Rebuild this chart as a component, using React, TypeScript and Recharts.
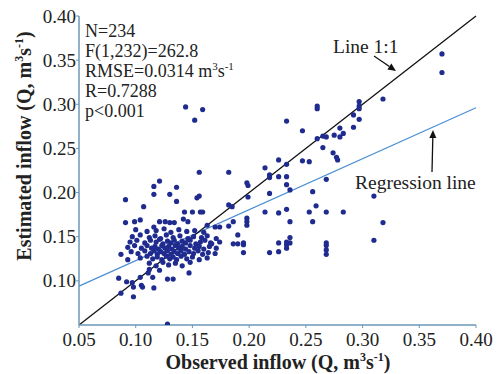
import React from 'react';
import { ScatterChart, Scatter, XAxis, YAxis, ReferenceLine } from 'recharts';

const xTicks = [0.05, 0.1, 0.15, 0.2, 0.25, 0.3, 0.35, 0.4];
const yTicks = [0.1, 0.15, 0.2, 0.25, 0.3, 0.35, 0.4];

// points to the right of the main cloud
const obsRight = [0.370,0.370,0.318,0.297,0.297,0.297,0.260,0.260,0.292,0.297,
  0.292,0.233,0.247,0.280,0.283,0.275,0.280,0.265,0.268,0.260,
  0.265,0.274,0.277,0.278,0.226,0.247,0.253,0.214,0.233,0.218,
  0.218,0.226,0.233,0.268,0.198,0.199,0.182,0.233,0.199,0.310,
  0.256,0.236,0.218,0.182,0.185,0.214,0.226,0.233,0.253,0.259,
  0.268,0.283,0.198,0.198,0.198,0.236,0.256,0.318,0.186,0.182,
  0.310,0.236,0.233,0.233,0.236,0.233,0.226,0.226,0.218,0.268,
  0.268,0.268,0.268,0.195,0.195,0.195,0.190,0.186,0.190];
const estRight = [0.357,0.336,0.306,0.303,0.298,0.295,0.298,0.295,0.288,0.283,
  0.274,0.281,0.270,0.273,0.267,0.265,0.263,0.264,0.263,0.261,
  0.251,0.245,0.240,0.237,0.237,0.236,0.235,0.228,0.232,0.220,
  0.217,0.218,0.218,0.215,0.211,0.208,0.223,0.209,0.195,0.196,
  0.201,0.203,0.199,0.186,0.184,0.178,0.177,0.181,0.178,0.185,
  0.178,0.178,0.171,0.167,0.163,0.167,0.167,0.166,0.167,0.162,
  0.146,0.149,0.144,0.141,0.143,0.137,0.143,0.133,0.132,0.143,
  0.140,0.135,0.130,0.143,0.141,0.132,0.152,0.142,0.142];

// points above the main cloud
const obsUpper = [0.144,0.152,0.159,0.156,0.116,0.121,0.136,
  0.091,0.116,0.130,0.136,0.156,0.154,0.107,0.143,0.150,0.157,0.159,0.091,0.099,
  0.104,0.121,0.126,0.130,0.134,0.142,0.146,0.116,0.163,0.170,0.174];
const estUpper = [0.297,0.282,0.294,0.223,0.207,0.213,0.206,
  0.192,0.198,0.198,0.190,0.196,0.194,0.184,0.178,0.178,0.178,0.178,0.166,0.167,
  0.169,0.167,0.167,0.166,0.166,0.170,0.167,0.161,0.163,0.161,0.161];

// points below the main cloud
const obsLower = [0.085,0.087,0.092,0.097,0.098,0.098,0.104,0.106,0.111,0.112,
  0.116,0.115,0.121,0.128,0.133,0.147,0.128,0.093,0.087,0.105,0.166];
const estLower = [0.103,0.086,0.099,0.098,0.093,0.082,0.104,0.093,0.109,0.113,
  0.092,0.104,0.112,0.102,0.102,0.109,0.051,0.124,0.130,0.095,0.143];

// dense central cloud
const obsCloud = [
  0.100,0.110,0.118,0.125,0.131,0.138,0.145,0.152,0.160,
  0.097,0.104,0.112,0.117,0.122,0.127,0.133,0.139,0.146,0.151,0.158,0.163,0.171,
  0.095,0.101,0.108,0.113,0.118,0.121,0.124,0.128,0.131,0.134,0.137,0.141,0.144,0.148,0.153,0.157,0.161,0.167,0.174,
  0.093,0.099,0.105,0.110,0.114,0.117,0.120,0.123,0.126,0.129,0.132,0.135,0.138,0.141,0.144,0.148,0.152,0.156,0.160,0.165,0.171,
  0.096,0.102,0.108,0.113,0.116,0.119,0.122,0.125,0.128,0.131,0.134,0.137,0.140,0.143,0.147,0.151,0.155,0.159,0.164,0.170,
  0.104,0.110,0.115,0.119,0.123,0.127,0.130,0.133,0.136,0.140,0.145,0.150,0.156,0.163,
  0.112,0.118,0.124,0.129,0.135,0.141,0.148];
const estCloud = [
  0.158,0.156,0.157,0.159,0.155,0.158,0.156,0.157,0.155,
  0.150,0.152,0.149,0.151,0.148,0.152,0.149,0.151,0.148,0.150,0.149,0.151,0.148,
  0.144,0.146,0.143,0.146,0.144,0.147,0.142,0.145,0.143,0.146,0.142,0.145,0.143,0.146,0.142,0.144,0.146,0.142,0.144,
  0.138,0.140,0.137,0.140,0.137,0.139,0.136,0.140,0.137,0.139,0.136,0.140,0.137,0.139,0.136,0.140,0.137,0.139,0.136,0.139,0.137,
  0.133,0.131,0.134,0.131,0.134,0.130,0.133,0.131,0.134,0.130,0.133,0.131,0.134,0.130,0.133,0.131,0.134,0.130,0.132,0.131,
  0.126,0.128,0.125,0.127,0.124,0.128,0.125,0.127,0.124,0.128,0.125,0.127,0.124,0.126,
  0.120,0.117,0.121,0.118,0.120,0.117,0.121];

const observed = [...obsRight, ...obsUpper, ...obsLower, ...obsCloud];
const estimated = [...estRight, ...estUpper, ...estLower, ...estCloud];
const points = observed.map((x, i) => ({ x, y: estimated[i] }));

const oneToOne = [{ x: 0.05, y: 0.05 }, { x: 0.4, y: 0.4 }];
const regression = [{ x: 0.05, y: 0.094 }, { x: 0.4, y: 0.296 }];

const statLines = ['N=234', 'F(1,232)=262.8', 'RMSE=0.0314 m', 'R=0.7288', 'p<0.001'];

const FONT = 'Liberation Serif, Times New Roman, serif';
const FRAME = '#6a97b8';
const DOT = '#1f2b8e';
const TXT = '#222';

const Dot = (p: any) => <circle cx={p.cx} cy={p.cy} r={2.6} fill={DOT} />;

const XTick = (p: any) => (
  <text x={p.x} y={p.y + 13} textAnchor="middle" fill={TXT} style={{ fontFamily: FONT, fontSize: 19 }}>
    {Number(p.payload.value).toFixed(2)}
  </text>
);
const YTick = (p: any) => (
  <text x={p.x} y={p.y + 6.5} textAnchor="end" fill={TXT} style={{ fontFamily: FONT, fontSize: 19 }}>
    {Number(p.payload.value).toFixed(2)}
  </text>
);

function Arrow({ x1, y1, x2, y2 }: { x1: number; y1: number; x2: number; y2: number }) {
  const a = Math.atan2(y2 - y1, x2 - x1);
  const L = 8, W = 3.5;
  const bx = x2 - L * Math.cos(a), by = y2 - L * Math.sin(a);
  const px = -Math.sin(a) * W, py = Math.cos(a) * W;
  return (
    <g>
      <line x1={x1} y1={y1} x2={bx} y2={by} stroke="#111" strokeWidth={1.3} />
      <polygon points={`${x2},${y2} ${bx + px},${by + py} ${bx - px},${by - py}`} fill="#111" />
    </g>
  );
}

const Unit = ({ size }: { size: number }) => (
  <>
    <tspan>m</tspan>
    <tspan dy={-size * 0.4} style={{ fontSize: size * 0.6 }}>3</tspan>
    <tspan dy={size * 0.4}>s</tspan>
    <tspan dy={-size * 0.4} style={{ fontSize: size * 0.6 }}>-1</tspan>
    <tspan dy={size * 0.4}>)</tspan>
  </>
);

export default function App() {
  return (
    <div style={{ position: 'absolute', left: 0, top: 0, width: 498, height: 374, background: '#fff' }}>
      <ScatterChart width={498} height={374} margin={{ top: 16, right: 22, bottom: 0, left: 0 }}>
        <XAxis
          type="number"
          dataKey="x"
          domain={[0.05, 0.4]}
          ticks={xTicks}
          height={49}
          tickSize={3}
          tickMargin={5}
          axisLine={{ stroke: FRAME, strokeWidth: 1.5 }}
          tickLine={{ stroke: FRAME }}
          tick={<XTick />}
          allowDataOverflow
        />
        <YAxis
          type="number"
          dataKey="y"
          domain={[0.05, 0.4]}
          ticks={yTicks}
          width={79}
          tickSize={3}
          tickMargin={0}
          axisLine={{ stroke: FRAME, strokeWidth: 1.5 }}
          tickLine={{ stroke: FRAME }}
          tick={<YTick />}
          allowDataOverflow
        />
        <XAxis xAxisId="top" orientation="top" type="number" domain={[0.05, 0.4]} height={0} tick={false} tickLine={false} axisLine={{ stroke: FRAME, strokeWidth: 1.5 }} />
        <YAxis yAxisId="right" orientation="right" type="number" domain={[0.05, 0.4]} width={0} tick={false} tickLine={false} axisLine={{ stroke: FRAME, strokeWidth: 1.5 }} />
        <ReferenceLine segment={regression} stroke="#4a8fd4" strokeWidth={1.2} ifOverflow="visible" />
        <ReferenceLine segment={oneToOne} stroke="#111" strokeWidth={1.3} ifOverflow="visible" />
        <Scatter data={points} shape={Dot} isAnimationActive={false} />
      </ScatterChart>
      <svg width={498} height={374} style={{ position: 'absolute', left: 0, top: 0, pointerEvents: 'none' }}>
        {statLines.map((t, i) => (
          <text key={t} x={85} y={37 + i * 20} fill={TXT} style={{ fontFamily: FONT, fontSize: 18 }}>
            {i === 2 ? (
              <>
                <tspan>{t}</tspan>
                <tspan dy={-7} style={{ fontSize: 11 }}>3</tspan>
                <tspan dy={7}>s</tspan>
                <tspan dy={-7} style={{ fontSize: 11 }}>-1</tspan>
              </>
            ) : t}
          </text>
        ))}
        <text x={333} y={53} fill={TXT} style={{ fontFamily: FONT, fontSize: 19.5 }}>Line 1:1</text>
        <Arrow x1={374} y1={56} x2={396} y2={71} />
        <text x={355} y={189} fill={TXT} style={{ fontFamily: FONT, fontSize: 19.5 }}>Regression line</text>
        <Arrow x1={432} y1={172} x2={433} y2={130} />
        <text x={278} y={369} textAnchor="middle" fill={TXT} style={{ fontFamily: FONT, fontSize: 20, fontWeight: 'bold' }}>
          <tspan>Observed inflow (Q, </tspan>
          <Unit size={20} />
        </text>
        <text x={31} y={146} textAnchor="middle" transform="rotate(-90 31 146)" fill={TXT} style={{ fontFamily: FONT, fontSize: 20, fontWeight: 'bold' }}>
          <tspan>Estimated inflow (Q, </tspan>
          <Unit size={20} />
        </text>
      </svg>
    </div>
  );
}
